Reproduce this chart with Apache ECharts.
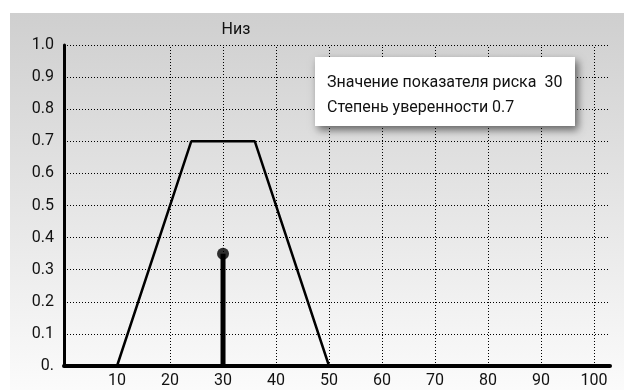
<!DOCTYPE html>
<html>
<head>
<meta charset="utf-8">
<script src="https://cdn.jsdelivr.net/npm/echarts@6/dist/echarts.min.js"></script>
<style>
  html, body { margin: 0; padding: 0; background: #fff; }
  #chart { width: 624px; height: 390px; }
</style>
</head>
<body>
<div id="chart"></div>
<script>
// Membership function "Низ" (low risk) and the evaluated point
const membershipX = [10, 24, 36, 50];
const membershipY = [0, 0.7, 0.7, 0];
const riskValue = 30;
const pointDegree = 0.35;
const xGridTicks = [20, 30, 40, 50, 60, 70, 80, 90, 100];
const infoLines = ['Значение показателя риска  30', 'Степень уверенности 0.7'];
const chartTitle = 'Низ';

const FONT = '"Liberation Sans Narrow", Roboto, sans-serif';

const chart = echarts.init(document.getElementById('chart'), null, { renderer: 'canvas' });

const trapezoid = membershipX.map((x, i) => [x, membershipY[i]]);

chart.setOption({
  animation: false,
  graphic: [{
    type: 'rect',
    z: -10,
    silent: true,
    shape: { x: 10, y: 13, width: 614, height: 377 },
    style: {
      fill: new echarts.graphic.LinearGradient(0, 0, 0, 1, [
        { offset: 0, color: '#cfcfcf' },
        { offset: 1, color: '#fbfbfb' }
      ])
    }
  }, {
    type: 'group',
    left: 315,
    top: 57,
    z: 100,
    children: [{
      type: 'rect',
      z: 100,
      shape: { x: 0, y: 0, width: 260, height: 69 },
      style: {
        fill: '#fff',
        shadowColor: 'rgba(0,0,0,0.55)',
        shadowBlur: 8,
        shadowOffsetX: 3,
        shadowOffsetY: 4
      }
    }, {
      type: 'text',
      z: 101,
      x: 12,
      y: 26,
      style: {
        text: infoLines[0],
        font: '16px ' + FONT,
        fill: '#111',
        textVerticalAlign: 'middle'
      }
    }, {
      type: 'text',
      z: 101,
      x: 12,
      y: 51,
      style: {
        text: infoLines[1],
        font: '16px ' + FONT,
        fill: '#111',
        textVerticalAlign: 'middle'
      }
    }]
  }],
  title: [{
    text: chartTitle,
    left: 231,
    top: 17,
    textAlign: 'center',
    textStyle: { fontFamily: FONT, fontSize: 16, fontWeight: 'normal', color: '#111' }
  }],
  grid: { left: 64, right: 14, top: 45, bottom: 24 },
  xAxis: {
    type: 'value',
    min: 0,
    max: 103,
    interval: 10,
    axisLine: { show: true, onZero: false, lineStyle: { color: '#000', width: 4 } },
    axisTick: { show: false },
    splitLine: { show: false },
    axisLabel: {
      showMinLabel: false,
      showMaxLabel: false,
      margin: 7,
      fontFamily: FONT, fontSize: 16, color: '#111',
      formatter: v => (v > 0 && v <= 100 ? String(v) : '')
    }
  },
  yAxis: {
    type: 'value',
    min: 0,
    max: 1,
    interval: 0.1,
    axisLine: { show: true, lineStyle: { color: '#000', width: 3 } },
    axisTick: { show: false },
    splitLine: { show: true, lineStyle: { color: '#000', width: 1, type: [1, 2] } },
    axisLabel: {
      margin: 10,
      fontFamily: FONT, fontSize: 16, color: '#111',
      formatter: v => (v === 0 ? '0.' : v.toFixed(1))
    }
  },
  series: [{
    type: 'line',
    data: trapezoid,
    symbol: 'none',
    lineStyle: { color: '#000', width: 2.5 },
    z: 5,
    markLine: {
      silent: true,
      symbol: 'none',
      label: { show: false },
      lineStyle: { color: '#000', width: 1, type: [1, 2] },
      data: xGridTicks.map(v => ({ xAxis: v }))
    }
  }, {
    type: 'line',
    data: [[riskValue, 0], [riskValue, pointDegree]],
    symbol: 'none',
    lineStyle: { color: '#000', width: 5 },
    z: 6
  }, {
    type: 'scatter',
    data: [[riskValue, pointDegree]],
    symbol: 'circle',
    symbolSize: 12,
    itemStyle: { color: '#000' },
    z: 7
  }]
});
</script>
</body>
</html>
